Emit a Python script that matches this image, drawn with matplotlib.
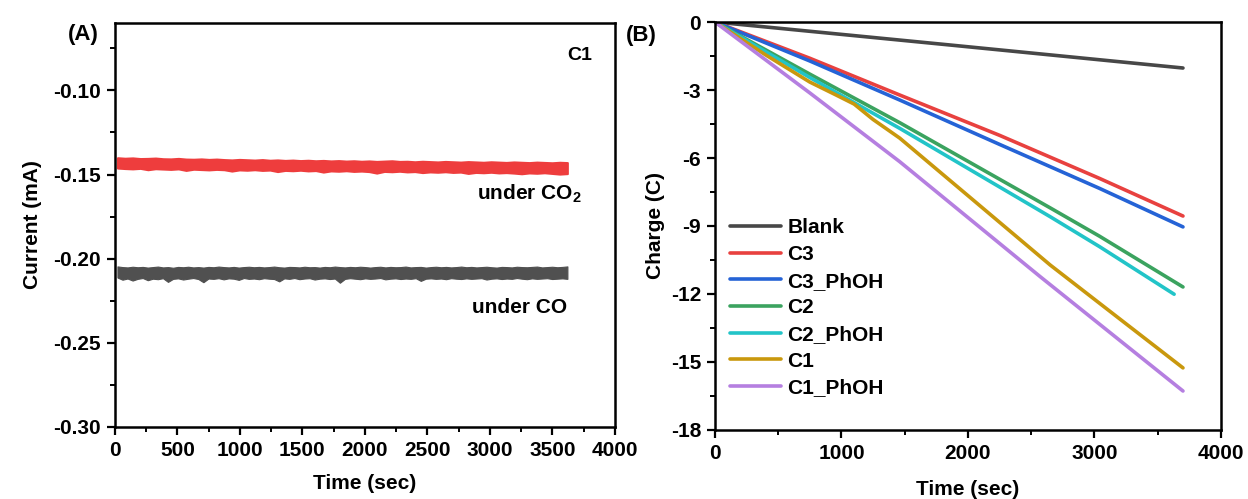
import numpy as np
import matplotlib
matplotlib.use("Agg")
import matplotlib.pyplot as plt
from matplotlib.ticker import MultipleLocator, FormatStrFormatter

# ---------------- data ----------------
# (A) chronoamperometry of C1, sampled from 20 s to 3620 s
t_start_A, t_end_A = 20, 3620

co2_upper = [-0.1400, -0.1403, -0.1401, -0.1405, -0.1404, -0.1402, -0.1406, -0.1407, -0.1404, -0.1408,
             -0.1409, -0.1407, -0.1410, -0.1408, -0.1411, -0.1413, -0.1410, -0.1412, -0.1414, -0.1411,
             -0.1415, -0.1413, -0.1416, -0.1414, -0.1417, -0.1415, -0.1418, -0.1416, -0.1419, -0.1417,
             -0.1420, -0.1418, -0.1421, -0.1419, -0.1422, -0.1420, -0.1418, -0.1422, -0.1421, -0.1424,
             -0.1421, -0.1423, -0.1425, -0.1422, -0.1424, -0.1426, -0.1423, -0.1425, -0.1427, -0.1424,
             -0.1426, -0.1428, -0.1425, -0.1427, -0.1429, -0.1426, -0.1428, -0.1430, -0.1427, -0.1429]
co2_lower = [-0.1462, -0.1465, -0.1467, -0.1464, -0.1472, -0.1466, -0.1468, -0.1470, -0.1467, -0.1476,
             -0.1469, -0.1471, -0.1473, -0.1470, -0.1472, -0.1480, -0.1473, -0.1475, -0.1472, -0.1476,
             -0.1474, -0.1483, -0.1476, -0.1478, -0.1475, -0.1479, -0.1477, -0.1486, -0.1479, -0.1481,
             -0.1478, -0.1482, -0.1480, -0.1483, -0.1492, -0.1482, -0.1484, -0.1481, -0.1485, -0.1483,
             -0.1489, -0.1485, -0.1487, -0.1484, -0.1488, -0.1486, -0.1494, -0.1488, -0.1490, -0.1487,
             -0.1491, -0.1489, -0.1492, -0.1496, -0.1491, -0.1493, -0.1490, -0.1494, -0.1498, -0.1495]

co_upper = [-0.2046, -0.2050, -0.2052, -0.2048, -0.2051, -0.2049, -0.2053, -0.2050, -0.2047, -0.2052,
            -0.2050, -0.2054, -0.2049, -0.2051, -0.2048, -0.2052, -0.2050, -0.2053, -0.2049, -0.2051,
            -0.2047, -0.2050, -0.2052, -0.2049, -0.2053, -0.2050, -0.2048, -0.2051, -0.2049, -0.2052,
            -0.2050, -0.2047, -0.2051, -0.2053, -0.2049, -0.2050, -0.2052, -0.2048, -0.2051, -0.2050,
            -0.2053, -0.2049, -0.2051, -0.2047, -0.2050, -0.2052, -0.2049, -0.2051, -0.2048, -0.2050,
            -0.2053, -0.2050, -0.2048, -0.2052, -0.2049, -0.2051, -0.2050, -0.2047, -0.2052, -0.2050,
            -0.2049, -0.2053, -0.2050, -0.2048, -0.2051, -0.2049, -0.2052, -0.2050, -0.2047, -0.2051,
            -0.2049, -0.2052, -0.2050, -0.2048, -0.2051, -0.2053, -0.2049, -0.2050, -0.2052, -0.2048,
            -0.2050, -0.2051, -0.2049, -0.2047, -0.2052, -0.2050, -0.2048, -0.2051, -0.2049, -0.2046]
co_lower = [-0.2112, -0.2125, -0.2118, -0.2130, -0.2120, -0.2115, -0.2128, -0.2119, -0.2122, -0.2116,
            -0.2138, -0.2120, -0.2117, -0.2124, -0.2119, -0.2115, -0.2121, -0.2140, -0.2118, -0.2120,
            -0.2116, -0.2123, -0.2117, -0.2119, -0.2126, -0.2115, -0.2120, -0.2118, -0.2122, -0.2116,
            -0.2119, -0.2121, -0.2135, -0.2117, -0.2120, -0.2115, -0.2122, -0.2118, -0.2116, -0.2124,
            -0.2119, -0.2117, -0.2121, -0.2118, -0.2143, -0.2120, -0.2116, -0.2119, -0.2122, -0.2117,
            -0.2120, -0.2118, -0.2115, -0.2123, -0.2119, -0.2117, -0.2121, -0.2118, -0.2120, -0.2116,
            -0.2132, -0.2119, -0.2117, -0.2120, -0.2118, -0.2122, -0.2116, -0.2119, -0.2121, -0.2117,
            -0.2120, -0.2118, -0.2116, -0.2124, -0.2119, -0.2117, -0.2121, -0.2118, -0.2120, -0.2115,
            -0.2119, -0.2122, -0.2117, -0.2120, -0.2118, -0.2116, -0.2121, -0.2119, -0.2117, -0.2120]

# (B) accumulated charge vs time
series_names = ["Blank", "C3", "C3_PhOH", "C2", "C2_PhOH", "C1", "C1_PhOH"]
t_blank = [0, 1850, 3700]
q_blank = [0, -1.01, -2.03]
t_c3 = [0, 750, 1460, 2250, 3040, 3700]
q_c3 = [0, -1.60, -3.22, -5.00, -6.90, -8.56]
t_c3_phoh = [0, 750, 1460, 2250, 3040, 3700]
q_c3_phoh = [0, -1.72, -3.44, -5.40, -7.34, -9.04]
t_c2 = [0, 750, 1460, 2650, 3040, 3700]
q_c2 = [0, -2.30, -4.44, -8.20, -9.45, -11.69]
t_c2_phoh = [0, 750, 1460, 2650, 3040, 3630]
q_c2_phoh = [0, -2.45, -4.69, -8.59, -9.91, -12.01]
t_c1 = [0, 400, 750, 950, 1100, 1250, 1460, 2000, 2650, 3200, 3700]
q_c1 = [0, -1.45, -2.65, -3.20, -3.62, -4.30, -5.12, -7.66, -10.72, -13.10, -15.26]
t_c1_phoh = [0, 750, 1460, 2570, 3700]
q_c1_phoh = [0, -3.13, -6.16, -11.23, -16.28]

# ---------------- style ----------------
plt.rcParams.update({
    "font.family": "Liberation Sans",
    "font.weight": "bold",
    "axes.unicode_minus": False,
    "mathtext.fontset": "custom",
    "mathtext.rm": "Liberation Sans:bold",
    "mathtext.bf": "Liberation Sans:bold",
    "mathtext.it": "Liberation Sans:bold",
})

FS = 15
colors = ["#474747", "#e8413f", "#2563d6", "#3ba35f", "#22c4c8", "#c9980d", "#b57fe0"]


def style_axes(ax):
    for s in ax.spines.values():
        s.set_linewidth(1.8)
    ax.tick_params(which="both", direction="out", top=False, right=False,
                   labelsize=FS, pad=4)
    ax.tick_params(which="major", length=6, width=1.6)
    ax.tick_params(which="minor", length=3.5, width=1.4)


fig = plt.figure(figsize=(12.48, 4.99), dpi=100)
axA = fig.add_axes([0.0921, 0.1443, 0.4006, 0.8096])
axB = fig.add_axes([0.5729, 0.1383, 0.4054, 0.8176])

# ---------------- panel A ----------------
tA_co2 = np.linspace(t_start_A, t_end_A, len(co2_upper))
tA_co = np.linspace(t_start_A, t_end_A, len(co_upper))
axA.fill_between(tA_co2, co2_lower, co2_upper, color="#ee3d3d", lw=1.4,
                 edgecolor="#ee3d3d")
axA.fill_between(tA_co, co_lower, co_upper, color="#505050", lw=0.8,
                 edgecolor="#505050")

axA.set_xlim(0, 4000)
axA.set_ylim(-0.30, -0.06)
axA.xaxis.set_major_locator(MultipleLocator(500))
axA.xaxis.set_minor_locator(MultipleLocator(250))
axA.yaxis.set_major_locator(MultipleLocator(0.05))
axA.yaxis.set_minor_locator(MultipleLocator(0.025))
axA.yaxis.set_major_formatter(FormatStrFormatter("%.2f"))
style_axes(axA)
axA.set_xlabel("Time (sec)", fontsize=FS, fontweight="bold", labelpad=10)
axA.set_ylabel("Current (mA)", fontsize=FS, fontweight="bold", labelpad=8)

axA.text(3720, -0.0794, "C1", fontsize=14, fontweight="bold", ha="center", va="center")
axA.text(3736, -0.1647, r"under CO$_{\mathbf{2}}$", fontsize=FS, fontweight="bold",
         ha="right", va="baseline")
axA.text(3616, -0.2322, "under CO", fontsize=FS, fontweight="bold",
         ha="right", va="baseline")

# ---------------- panel B ----------------
series_t = [t_blank, t_c3, t_c3_phoh, t_c2, t_c2_phoh, t_c1, t_c1_phoh]
series_q = [q_blank, q_c3, q_c3_phoh, q_c2, q_c2_phoh, q_c1, q_c1_phoh]
for name, t, q, c in zip(series_names, series_t, series_q, colors):
    axB.plot(t, q, color=c, lw=2.6, label=name, solid_capstyle="round")

axB.set_xlim(0, 4000)
axB.set_ylim(-18, 0)
axB.xaxis.set_major_locator(MultipleLocator(1000))
axB.xaxis.set_minor_locator(MultipleLocator(500))
axB.yaxis.set_major_locator(MultipleLocator(3))
axB.yaxis.set_minor_locator(MultipleLocator(1.5))
style_axes(axB)
axB.set_xlabel("Time (sec)", fontsize=FS, fontweight="bold", labelpad=12)
axB.set_ylabel("Charge (C)", fontsize=FS, fontweight="bold", labelpad=4)

leg = axB.legend(loc="upper left", bbox_to_anchor=(0.0296, 0.519), frameon=False,
                 fontsize=FS, handlelength=2.45, handletextpad=0.3,
                 labelspacing=0.37, borderpad=0, borderaxespad=0)
for line in leg.get_lines():
    line.set_linewidth(2.6)

# panel letters
fig.text(0.0665, 0.93, "(A)", fontsize=16, fontweight="bold", ha="center", va="center")
fig.text(0.5136, 0.928, "(B)", fontsize=16, fontweight="bold", ha="center", va="center")

fig.savefig("out.png", dpi=100)
